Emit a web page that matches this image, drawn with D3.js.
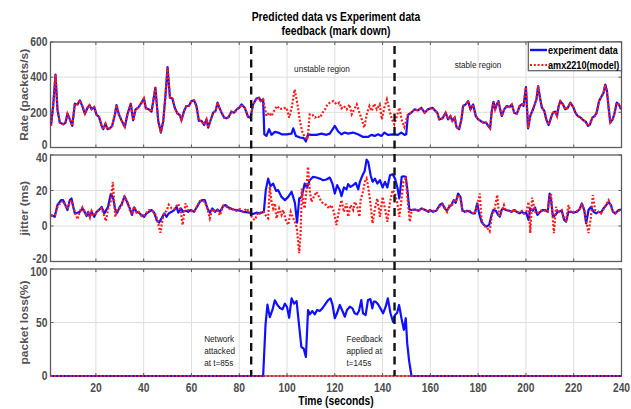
<!DOCTYPE html>
<html>
<head>
<meta charset="utf-8">
<script src="https://cdn.jsdelivr.net/npm/d3@7"></script>
<style>
  body { margin: 0; background: #fff; }
  svg { display: block; }
</style>
</head>
<body>
<svg id="chart" width="631" height="409"></svg>
<script>
// ---------- data ----------
const timeTicks = [20, 40, 60, 80, 100, 120, 140, 160, 180, 200, 220, 240];
const rateTicks = [0, 200, 400, 600];
const jitterTicks = [-20, 0, 20, 40];
const lossTicks = [0, 50, 100];

const attackTime = 85;
const feedbackTime = 145;

// Rate (packets/s): both series coincide outside the unstable window
const rateBefore = [[1.2,123],[2.1,236],[3.1,415],[3.9,217],[4.9,142],[6.3,132],[7.3,142],[8.1,192],[9.1,160],[10.1,123],[11.2,249],[12.3,245],[13.3,268],[14.3,236],[15.4,192],[16.5,226],[17.3,241],[18.2,217],[19.3,230],[20.3,185],[21.3,174],[22.4,123],[23.1,104],[24,136],[24.9,104],[25.9,109],[26.8,123],[28,189],[28.6,241],[29.6,189],[30.7,155],[32.1,117],[33.2,189],[34.6,249],[35.6,155],[36.6,217],[37.7,226],[39.1,255],[40.1,279],[40.9,223],[42.2,217],[43.3,204],[44.9,340],[46.1,151],[47.2,85],[48.2,151],[49.1,292],[50,457],[51,283],[52,279],[53,226],[54.2,192],[55.1,185],[55.8,155],[56.9,208],[57.9,236],[58.9,236],[60,264],[61.1,268],[62.1,236],[63.1,151],[64.2,151],[65.3,128],[66.3,160],[67,113],[68,155],[69.1,198],[70.1,208],[70.9,255],[71.6,230],[72.6,198],[73.7,170],[74.7,166],[75.6,174],[76.7,204],[77.9,198],[78.9,217],[80,226],[81,245],[82.3,226],[83.7,174],[84.7,170],[85.8,245],[87.2,279],[88.3,283],[89,264],[90,274]];
const rateExpUnstable = [[90.5,75],[91.4,66],[92.5,104],[93.5,72],[94.9,89],[96.3,85],[97.7,75],[99.8,75],[101.9,79],[102.6,109],[103.7,66],[105.4,57],[107,53],[107.9,34],[108.8,75],[110.2,72],[112.3,72],[114.4,79],[116.5,72],[117.9,79],[120,123],[121.4,91],[122.8,75],[124.2,85],[125.5,79],[127.6,85],[129.7,75],[131.8,60],[133.9,60],[135.3,72],[136.7,66],[138.1,75],[139.5,66],[140.8,85],[142.2,72],[144.3,75],[146.4,72],[147.8,85],[149.2,72],[149.9,75]];
const rateModelUnstable = [[91.4,179],[92.5,198],[93.5,179],[94.9,217],[95.9,236],[97,217],[98.4,223],[99.8,226],[100.9,170],[102,230],[103.2,330],[104.4,245],[105.5,142],[106.5,85],[107.5,57],[108.6,47],[109.5,189],[110.7,185],[111.7,170],[112.6,179],[113.8,170],[114.9,198],[115.9,217],[116.9,245],[118,255],[119.4,264],[120.8,245],[121.9,255],[122.8,223],[123.8,236],[125,217],[126.1,245],[127.1,189],[128.1,217],[129.2,245],[130.3,198],[131.3,160],[132.3,113],[133.4,189],[134.5,236],[135.5,208],[136.5,249],[137.6,217],[138.8,245],[139.7,160],[140.7,226],[141.8,274],[142.8,217],[143.9,160],[144.9,132],[146,179],[147,226],[148.1,151],[149.1,117],[150.2,170]];
const rateAfter = [[150.6,185],[152,198],[153.4,217],[154.8,211],[156.2,226],[157.6,198],[159,217],[160.9,226],[161.9,211],[162.9,198],[163.7,160],[165.1,166],[166.4,198],[167.4,160],[168.4,179],[169.2,151],[170.2,170],[170.9,117],[172,104],[173,160],[173.7,236],[174.8,245],[175.8,264],[176.8,217],[177.9,245],[179,179],[180,160],[181,151],[182.1,142],[183.3,142],[184.2,123],[185,109],[185.7,208],[186.4,260],[187.1,217],[187.8,245],[188.5,264],[189.2,217],[189.9,179],[190.9,217],[192,236],[193.1,230],[194.1,245],[195.1,198],[196.2,192],[197.4,236],[198.3,245],[199,236],[200,343],[200.9,109],[201.8,179],[203.2,226],[204.4,274],[205.1,349],[206,274],[206.7,226],[207.7,208],[208.5,160],[209.5,128],[210.5,170],[211.3,198],[212.3,204],[213,179],[213.7,236],[214.4,264],[215.5,245],[216.5,217],[217.5,226],[218.6,255],[219.8,230],[220.7,198],[221.7,179],[222.9,170],[224,155],[225,147],[226,123],[226.8,132],[227.8,170],[228.8,179],[229.6,198],[230.6,264],[231.7,292],[232.5,311],[233.2,358],[233.9,321],[234.6,226],[235.3,142],[236.3,160],[237,189],[238,255],[238.9,245],[239.8,217]];

// Jitter (ms)
const jitterExpBefore = [[1.2,6.2],[2.8,5.2],[3.9,11.8],[5.4,14.6],[6.3,14.6],[8.1,9],[9.1,14.6],[9.8,15.5],[10.5,10.8],[11.2,7.1],[12.3,7.5],[13.3,8],[14.3,9.9],[15.1,8.6],[16.1,5.6],[16.8,8],[17.5,5.2],[18.2,8],[19.3,5.2],[20.3,8],[21.3,9],[22.4,10.8],[23.5,7.1],[25.1,10.8],[26.2,17.9],[27.1,16.4],[28.1,9.3],[28.9,7.5],[29.9,10.5],[30.9,12.7],[32,16.8],[33.2,13],[34.2,9.9],[35.1,6.2],[36,10.5],[37,8],[37.9,7.5],[39.1,6.2],[40.2,5.2],[41.2,7.1],[42.2,8],[43.3,9],[44.4,7.5],[45.4,3.4],[46.4,1.9],[47.5,4.3],[48.6,7.1],[49.6,5.2],[50.5,7.1],[51.7,8],[52.8,9],[53.8,10.8],[54.5,7.5],[55.6,9.9],[56.5,8],[57.5,8.6],[58.6,8],[59.7,9],[61.1,8],[63.5,13.6],[64.5,14.6],[65.6,14.6],[66.7,9.9],[67.7,7.5],[68.7,9.9],[69.8,8],[70.9,9.3],[71.9,8],[73.3,11.2],[74.3,11.8],[75.4,10.5],[76.5,9.9],[77.4,9.3],[78.9,9],[80.3,8.6],[81.6,8]];
const jitterExpUnstable = [[84.4,7.5],[85.8,6.7],[87.2,7.5],[88.6,7.1],[90.3,8],[91.1,20.2],[92.1,26.7],[93.1,22.4],[94.2,23.9],[95.4,19.8],[96.3,20.2],[97.7,16.4],[99.1,14.6],[100.5,16.4],[101.9,19.3],[103.3,13],[104.2,1.9],[105.1,15.5],[106.1,16.4],[107.4,23.9],[108.4,21.7],[109.5,25.8],[110.9,27.7],[112.3,27.3],[113.7,26.7],[115.1,25.8],[116.5,26.2],[117.9,27.3],[119,23.9],[120,18.3],[121,23],[122.1,20.2],[122.8,16.8],[123.8,21.7],[124.9,20.6],[125.6,23.6],[126.6,22],[127.7,23],[128.8,24.3],[129.8,20.6],[130.5,24.9],[131.6,28.6],[132.5,31],[133.3,37.4],[134,36],[135,28.6],[135.8,24.9],[136.8,26.7],[137.8,23.9],[138.9,25.8],[140,21.7],[141,24.9],[142,21.7],[143.1,28.6],[144.2,29.2],[145.2,26.7],[146.2,21.7],[147,15.5],[148,27.7],[148.7,28],[149.7,27.7],[150.4,20.2],[151.2,9.3],[152.2,9],[153.6,9.3],[155,8.6],[156.4,9.9],[157.8,9],[159.2,8]];
const jitterExpAfter = [[159.7,9],[161.1,8],[162.5,8.6],[163.9,11.8],[165,12.7],[166,9.9],[167,8.6],[167.9,10.8],[168.8,11.8],[169.8,14.6],[170.6,13.1],[171.6,18.3],[172.6,16.4],[173.4,9],[174.4,8],[175.4,8.6],[176.5,8],[177.6,7.1],[178.6,7.1],[179.6,12.7],[180.4,7.1],[181.4,2.4],[182.4,0.6],[183.5,-0.4],[184.6,0.6],[185.6,6.2],[186.3,9],[187.4,8.6],[188.4,6.2],[189.1,5.2],[189.8,9],[190.5,9.9],[191.6,9],[193,8.6],[194,8],[195,9],[196.1,8],[197.3,7.1],[198.3,8],[199.2,7.1],[200.1,7.5],[201.1,3.4],[201.8,9.9],[202.9,8.6],[203.8,10.5],[204.8,6.2],[206,8],[207.1,9],[208.1,9],[209.1,8],[209.9,18.3],[210.5,15],[211.3,5.2],[212.3,6.2],[213.3,8],[215,8.6],[216,3.4],[216.8,2.4],[217.8,8],[218.8,8],[219.9,7.5],[221.3,8],[222.4,9.3],[223.4,12.7],[224.4,9],[225.2,1.5],[226.2,9],[227.2,10.8],[228.3,8],[229.4,7.1],[230.4,8],[231.4,7.5],[232.5,9.9],[233.6,11.8],[234.6,13.6],[235.6,11.8],[236.4,8],[237.4,7.1],[238.8,9],[240,9.3]];

const jitterModelBefore = [[1.2,5.5],[2.8,6],[3.9,10.5],[5.4,13.5],[6.3,14],[8.1,9.5],[9.1,13.5],[9.8,14.5],[10.5,11],[11.2,8],[12.3,3.8],[13.3,8.5],[14.3,10.5],[15.1,7.5],[16.1,6.5],[16.8,7.5],[17.5,4.8],[18.2,8.5],[19.3,6],[20.3,7.5],[21.3,9.5],[22.4,10],[23.5,5.5],[24.2,2.8],[25.1,9.5],[26.2,14],[27.1,24.8],[28.1,5.2],[28.9,8.5],[29.9,10],[30.9,12],[32,16.5],[33.2,13.5],[34.2,9],[35.1,6.5],[36,11],[37,7.5],[37.9,8],[39.1,5.5],[40.2,6],[41.2,7.5],[42.2,9],[43.3,8.5],[44.4,8],[45.4,5],[47,-3.8],[47.8,3],[48.6,7.5],[49.6,8.5],[50.5,12],[51.7,10],[52.8,9.5],[53.8,11.5],[54.5,12.5],[55.6,8],[56.3,0.6],[57.5,12.8],[58.6,9],[59.7,8.5],[61.1,8],[63.5,14],[64.5,14.5],[65.6,13.5],[66.7,9.5],[67.7,4.3],[68.7,9.5],[69.8,8.5],[70.9,8.8],[71.9,6],[73.3,11.5],[74.3,11],[75.4,10.5],[76.5,9],[77.4,9.5],[78.9,8.5],[80.3,9.5],[81.6,8],[83.1,9.9]];
const jitterModelUnstable = [[84.4,7.5],[85.5,4.3],[86.5,3.4],[87.9,7.5],[89.3,7.5],[90.3,8],[91.4,5.2],[92.1,4.3],[92.8,22],[93.5,13.6],[94.2,9.9],[94.9,12.7],[95.6,4.3],[96.7,9.9],[97.7,6.2],[98.4,9],[99.5,3.4],[100.5,0.6],[101.5,8],[102.6,4.3],[103.7,1.1],[104.2,-2.2],[105.1,-15.3],[105.7,-4.1],[106.2,21.1],[106.8,12.7],[107.4,9.9],[108.1,20.2],[108.8,33.3],[109.5,20.2],[110.2,13.6],[111.2,16.4],[112.3,19.3],[113.4,16.4],[114.4,13.6],[115.4,12.3],[116.5,11.8],[117.6,9.9],[118.6,11.8],[119.6,8],[120.7,0.6],[121.8,9],[122.8,14.6],[123.8,8],[124.9,12.7],[125.6,5.2],[126.6,11.8],[127.7,9],[128.4,13.6],[129.4,10.8],[130.3,5.2],[130.8,14.6],[131.6,18.3],[132.6,24.9],[133.3,26.7],[134,22],[135,11.8],[135.8,1.5],[136.8,9.9],[137.8,15.5],[138.9,5.2],[140,16.4],[141,9.9],[142,2.4],[143.1,13.6],[144.2,20.2],[145.2,18.3],[146.2,12.7],[147,5.2],[148,15.5],[148.7,24.9],[149.7,26.7],[150.5,14.6],[151.4,2.4],[152.2,9],[153.6,9.3],[155,8.6],[156.4,9.9],[157.8,9],[159.2,8]];
const jitterModelAfter = [[159.7,8.5],[161.1,8.5],[162.5,9],[163.9,11],[165,12],[166,10.5],[167,8],[167.9,11.5],[168.8,11],[169.8,14],[170.6,13.5],[171.6,17.5],[172.6,15.5],[173.4,8.5],[174.4,8.5],[175.4,8],[176.5,8.5],[177.6,7.5],[178.6,7],[179.6,11],[180.7,18.3],[181.4,4],[182.4,0],[183.5,-0.5],[184.8,-3],[185.8,6],[186.8,9],[188,17.5],[188.8,5],[189.8,8.5],[190.8,11.8],[191.6,8.5],[193,9],[194,7.5],[195,9.5],[196.1,8],[197.3,7.5],[198.3,8.5],[199.2,7],[200.1,7.5],[201.1,13.6],[201.8,-4],[202.6,16],[203.8,8],[204.8,7],[206,8.5],[207.1,9],[208.1,8.5],[209.1,8],[209.9,16],[210.5,18.3],[211.7,-4],[212.6,10.8],[213.3,7.5],[215,9],[216,4],[216.8,3],[217.8,11.8],[218.8,7.5],[219.9,8],[221.3,8.5],[222.4,9],[223.4,12],[224.4,9.5],[225.2,3],[226.2,-4],[227.2,5],[228,17.4],[229,9],[230.4,8],[231.4,7],[232.5,9.5],[233.6,12],[234.6,14.5],[235.6,11],[236.4,8.5],[237.4,7],[238.8,8.5],[240,9]];

// Packet loss (%)
const lossExp = [[1,0],[90,0],[91,47.7],[91.8,66.7],[92.8,55],[93.9,61.7],[94.9,70.7],[95.9,66.7],[97,63.6],[98.1,62.3],[99.1,67.6],[100,64.5],[100.9,54.5],[101.9,72.6],[102.9,67.6],[104,70],[104.9,50.5],[106,27.1],[107,25.5],[107.9,17.8],[108.8,61.7],[109.5,57.6],[110.6,60.7],[111.6,57.6],[112.6,61.7],[113.7,60.7],[114.8,63.2],[115.8,66.4],[117.2,71],[118.2,72.6],[119,67],[120,54],[120.9,58.6],[122.1,66.4],[123.2,60.7],[124.2,55.4],[125.1,61.7],[126.3,64.8],[127.4,63.2],[128.3,58.6],[129.3,57.6],[130.1,60.7],[131.1,71],[131.8,58.6],[132.9,57],[133.9,71],[134.9,71.9],[135.7,63.2],[136.3,69.5],[137.1,69.5],[138.1,67],[139.1,63.2],[140.2,58.6],[141.3,64.8],[142.2,72.6],[143.3,58.6],[144.4,50.5],[145.1,56.7],[146.1,59.2],[146.9,66.4],[147.9,54],[148.9,43.1],[149.7,54],[150.3,30.7],[151.1,14.2],[152.1,0],[240,0]];
const lossModel = [[1,0],[240,0]];

// Assembled series
const rateExp = rateBefore.concat(rateExpUnstable, rateAfter);
const rateModel = rateBefore.concat(rateModelUnstable, rateAfter);
const jitterExp = jitterExpBefore.concat(jitterExpUnstable, jitterExpAfter);
const jitterModel = jitterModelBefore.concat(jitterModelUnstable, jitterModelAfter);

// ---------- drawing ----------
const SQ = 0.86;               // horizontal compression of the text face
const FONT = '"Liberation Sans", Arial, sans-serif';
const BLUE = '#1010ff', RED = '#ff1a1a', FRAME = '#5c5c5c', GRID = '#dedede', TICKTXT = '#4d4d4d';

const svg = d3.select('#chart');
svg.append('rect').attr('width', 631).attr('height', 409).attr('fill', '#fff');

const x = d3.scaleLinear().domain([1, 240]).range([50.5, 621.5]);
const xL = x.range()[0], xR = x.range()[1];

function label(g, px, py, s, o = {}) {
  return g.append('text')
    .attr('transform', `translate(${px},${py}) scale(${SQ},1)` + (o.rotate ? ` rotate(${o.rotate})` : ''))
    .attr('font-family', FONT)
    .attr('font-size', o.size || 12)
    .attr('font-weight', o.weight || 'normal')
    .attr('fill', o.fill || '#000')
    .attr('text-anchor', o.anchor || 'start')
    .text(s);
}

const panels = [
  { id: 'rate', top: 42, bottom: 147.5, domain: [0, 600], ticks: rateTicks, title: 'Rate (packets/s)',
    series: [rateExp, rateModel] },
  { id: 'jitter', top: 155, bottom: 261.5, domain: [-20, 40], ticks: jitterTicks, title: 'jitter (ms)',
    series: [jitterExp, jitterModel] },
  { id: 'loss', top: 269, bottom: 376, domain: [0, 100], ticks: lossTicks, title: 'packet loss(%)',
    series: [lossExp, lossModel] }
];

panels.forEach((p, i) => {
  const y = d3.scaleLinear().domain(p.domain).range([p.bottom, p.top]);
  const g = svg.append('g');
  const clipId = 'clip-' + p.id;
  svg.append('clipPath').attr('id', clipId)
    .append('rect').attr('x', xL).attr('y', p.top - 2).attr('width', xR - xL).attr('height', p.bottom - p.top + 4);

  // grid
  g.selectAll('.vg').data(timeTicks.filter(t => t < 240)).join('line')
    .attr('x1', d => x(d)).attr('x2', d => x(d)).attr('y1', p.top).attr('y2', p.bottom)
    .attr('stroke', GRID).attr('stroke-width', 1);
  g.selectAll('.hg').data(p.ticks.filter(v => v > p.domain[0] && v < p.domain[1])).join('line')
    .attr('x1', xL).attr('x2', xR).attr('y1', d => y(d)).attr('y2', d => y(d))
    .attr('stroke', GRID).attr('stroke-width', 1);

  // inward tick marks
  const tk = 3;
  p.ticks.forEach(v => {
    g.append('line').attr('x1', xL).attr('x2', xL + tk).attr('y1', y(v)).attr('y2', y(v)).attr('stroke', FRAME);
    g.append('line').attr('x1', xR).attr('x2', xR - tk).attr('y1', y(v)).attr('y2', y(v)).attr('stroke', FRAME);
  });
  timeTicks.forEach(t => {
    g.append('line').attr('x1', x(t)).attr('x2', x(t)).attr('y1', p.bottom).attr('y2', p.bottom - tk).attr('stroke', FRAME);
    g.append('line').attr('x1', x(t)).attr('x2', x(t)).attr('y1', p.top).attr('y2', p.top + tk).attr('stroke', FRAME);
  });

  // frame
  g.append('rect').attr('x', xL).attr('y', p.top).attr('width', xR - xL).attr('height', p.bottom - p.top)
    .attr('fill', 'none').attr('stroke', FRAME).attr('stroke-width', 1.3);

  // series (experiment solid, model dotted on top)
  const line = d3.line().x(d => x(d[0])).y(d => y(d[1]));
  const plot = g.append('g').attr('clip-path', `url(#${clipId})`);
  plot.append('path').datum(p.series[0]).attr('d', line)
    .attr('fill', 'none').attr('stroke', BLUE).attr('stroke-width', 2.2).attr('stroke-linejoin', 'round');
  plot.append('path').datum(p.series[1]).attr('d', line)
    .attr('fill', 'none').attr('stroke', RED).attr('stroke-width', 2.2)
    .attr('stroke-dasharray', '2,1.8');

  // y tick labels; the end labels are nudged inward so adjacent panels stay legible
  p.ticks.forEach((v, k) => {
    let dy = 4.3;
    if (k === 0 && i < panels.length - 1) dy -= 0;
    if (k === 0 && i > 0) dy -= 0;
    if (k === 0 && i < panels.length - 1) dy -= 2.5;           // lowest label of an upper panel
    if (k === p.ticks.length - 1 && i > 0) dy += 2.5;          // highest label of a lower panel
    label(g, xL - 3, y(v) + dy, String(v), { size: 12, weight: 'bold', fill: TICKTXT, anchor: 'end' });
  });

  // y title
  label(g, 28, (p.top + p.bottom) / 2, p.title, { size: 12, weight: 'bold', fill: '#555', anchor: 'middle', rotate: -90 });

  // x tick labels on the lowest panel
  if (i === panels.length - 1) {
    timeTicks.forEach(t => {
      label(g, x(t), 391.5, String(t), { size: 12, weight: 'bold', fill: TICKTXT, anchor: 'middle' });
    });
  }
});

// event markers
[attackTime, feedbackTime].forEach(t => {
  svg.append('line').attr('x1', x(t)).attr('x2', x(t)).attr('y1', 46).attr('y2', 376)
    .attr('stroke', '#111').attr('stroke-width', 2.4).attr('stroke-dasharray', '8,5.5');
});

// titles
const midX = (xL + xR) / 2;
label(svg, midX, 20.5, 'Predicted data vs Experiment data', { size: 12, weight: 'bold', anchor: 'middle' });
label(svg, midX, 35, 'feedback (mark down)', { size: 12, weight: 'bold', anchor: 'middle' });
label(svg, midX, 405, 'Time (seconds)', { size: 12, weight: 'bold', anchor: 'middle' });

// region notes
label(svg, 322, 72, 'unstable region', { size: 9.5, fill: '#222', anchor: 'middle' });
label(svg, 478, 68, 'stable region', { size: 9.5, fill: '#222', anchor: 'middle' });

// event notes
const noteA = ['Network', 'attacked', 'at t=' + attackTime + 's'];
noteA.forEach((s, k) => label(svg, x(attackTime) - 47, 341.5 + k * 12.2, s, { size: 9.5, fill: '#222' }));
const noteF = ['Feedback', 'applied at', 't=' + feedbackTime + 's'];
noteF.forEach((s, k) => label(svg, x(feedbackTime) - 48, 341.5 + k * 12.2, s, { size: 9.5, fill: '#222' }));

// legend
const lg = svg.append('g');
lg.append('rect').attr('x', 528.3).attr('y', 42).attr('width', xR - 528.3).attr('height', 28.7)
  .attr('fill', '#fff').attr('stroke', FRAME).attr('stroke-width', 1.2);
lg.append('line').attr('x1', 530).attr('x2', 547).attr('y1', 50).attr('y2', 50)
  .attr('stroke', BLUE).attr('stroke-width', 2.4);
lg.append('line').attr('x1', 530).attr('x2', 547).attr('y1', 65).attr('y2', 65)
  .attr('stroke', RED).attr('stroke-width', 2.2).attr('stroke-dasharray', '2,1.8');
label(lg, 548, 53.8, 'experiment data', { size: 10.6, weight: 'bold' });
label(lg, 548, 68.8, 'amx2210(model)', { size: 10.6, weight: 'bold' });
</script>
</body>
</html>
